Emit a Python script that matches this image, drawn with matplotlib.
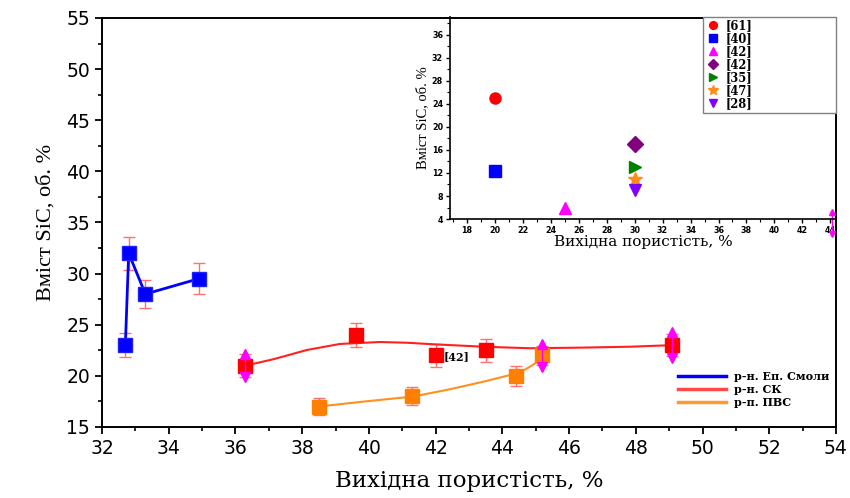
import matplotlib
matplotlib.use("Agg")
import matplotlib.pyplot as plt
from matplotlib.lines import Line2D

# --- main chart data ---
# р-н. Еп. Смоли (blue)
blue_x = [32.7, 32.8, 33.3, 34.9]
blue_y = [23, 32, 28, 29.5]
blue_err = [1.15, 1.6, 1.4, 1.5]

# р-н. СК (red)
red_x = [36.3, 39.6, 42.0, 43.5, 49.1]
red_y = [21, 24, 22, 22.5, 23]
red_err = [1.1, 1.17, 1.1, 1.1, 1.1]
# smoothed trend line
red_trend_x = [36.3, 37.13, 38.14, 39.13, 40.33, 41.13, 41.93, 43.43, 44.83, 46.33, 47.83, 48.82, 49.1]
red_trend_y = [21.0, 21.62, 22.53, 23.12, 23.31, 23.24, 23.09, 22.85, 22.7, 22.76, 22.85, 22.97, 23.0]

# р-н. ПВС (orange)
orange_x = [38.5, 41.3, 44.4, 45.2]
orange_y = [17, 18, 20, 22]
orange_err = [0.85, 0.87, 0.95, 0.9]
orange_trend_x = [38.5, 39.83, 41.31, 42.43, 43.43, 44.23, 44.7, 45.0, 45.2]
orange_trend_y = [17.0, 17.48, 17.97, 18.69, 19.43, 20.08, 20.65, 21.25, 22.0]

# magenta double arrows
arrow_x = [36.3, 45.2, 49.1]
arrow_y = [21, 22, 23]
arrow_d = [1.1, 1.15, 1.25]

legend_labels = ['р-н. Еп. Смоли', 'р-н. СК', 'р-п. ПВС']

# --- inset data ---
inset_labels = ['[61]', '[40]', '[42]', '[42]', '[35]', '[47]', '[28]']
inset_x = [20, 20, 25, 30, 30, 30, 30]
inset_y = [25, 12.4, 6, 17, 13, 11, 9]
inset_markers = ['o', 's', '^', 'D', '>', '*', 'v']
inset_colors = ['#ff0000', '#0000ff', '#ff00ff', '#800080', '#008000', '#ff8c1a', '#8000ff']
inset_arrow_x = [44.1]
inset_arrow_y = [3.3]
inset_arrow_d = [1.9]

fig = plt.figure(figsize=(8.5, 4.98), dpi=100)
ax = fig.add_axes([0.12, 0.1426, 0.8635, 0.8213])

# blue series
ax.errorbar(blue_x, blue_y, yerr=blue_err, fmt='none', ecolor='#ff7070', elinewidth=1, capsize=4, zorder=2)
ax.plot(blue_x, blue_y, '-', color='#0000ff', lw=2, marker='s', ms=9.5, mec='#2020ff', zorder=3)

# red series
ax.errorbar(red_x, red_y, yerr=red_err, fmt='none', ecolor='#ff7070', elinewidth=1, capsize=4, zorder=2)
ax.plot(red_trend_x, red_trend_y, '-', color='#ff2020', lw=1.5, zorder=3)
ax.plot(red_x, red_y, 's', color='#ff0000', ms=9.5, zorder=4)

# orange series
ax.errorbar(orange_x, orange_y, yerr=orange_err, fmt='none', ecolor='#ff7070', elinewidth=1, capsize=4, zorder=2)
ax.plot(orange_trend_x, orange_trend_y, '-', color='#ff9020', lw=1.5, zorder=3)
ax.plot(orange_x, orange_y, 's', color='#ff8000', ms=9.5, zorder=4)

# magenta arrows
for x, y, d in zip(arrow_x, arrow_y, arrow_d):
    ax.plot([x, x], [y - d, y + d], color='#ff00ff', lw=1, zorder=5)
    ax.plot(x, y + d, '^', color='#ff00ff', ms=6.5, zorder=5)
    ax.plot(x, y - d, 'v', color='#ff00ff', ms=6.5, zorder=5)

ax.text(42.25, 21.9, '[42]', fontsize=8, fontweight='bold', family='DejaVu Serif', va='center', ha='left')

ax.set_xlim(32, 54)
ax.set_ylim(15, 55)
ax.set_xticks(range(32, 55, 2))
ax.set_yticks(range(15, 56, 5))
ax.set_xticks(range(33, 54, 2), minor=True)
ax.set_yticks([17.5, 22.5, 27.5, 32.5, 37.5, 42.5, 47.5, 52.5], minor=True)
ax.tick_params(which='major', direction='out', length=5, width=1.3, labelsize=13.5)
ax.tick_params(which='minor', direction='out', length=3, width=1.2)
for s in ax.spines.values():
    s.set_linewidth(1.4)
ax.spines['right'].set_bounds(15, 46)

ax.set_xlabel('Вихідна пористість, %', family='DejaVu Serif', fontsize=16.5, labelpad=9)
ax.set_ylabel('Вміст SiC, об. %', family='Liberation Serif', fontsize=16, labelpad=8)

handles = [Line2D([], [], color='#0000ff', lw=2.5),
           Line2D([], [], color='#ff4a4a', lw=2.5),
           Line2D([], [], color='#ff9933', lw=2.5)]
ax.legend(handles, legend_labels, loc='lower right', bbox_to_anchor=(1.0, 0.03), frameon=False,
          prop={'family': 'DejaVu Serif', 'weight': 'bold', 'size': 8},
          handlelength=4.3, handletextpad=0.7, labelspacing=0.2, borderaxespad=0.2)

# --- inset ---
ins = fig.add_axes([0.5294, 0.5602, 0.4541, 0.4056])
ins.patch.set_alpha(0)
for lab, x, y, m, c in zip(inset_labels, inset_x, inset_y, inset_markers, inset_colors):
    ms = 10 if m == '*' else 8
    ins.plot(x, y, m, color=c, ms=ms, label=lab)

for x, y, d in zip(inset_arrow_x, inset_arrow_y, inset_arrow_d):
    ins.plot([x, x], [y - d, y + d], color='#ff00ff', lw=1, clip_on=False)
    ins.plot(x, y + d, '^', color='#ff00ff', ms=5, clip_on=False)
    ins.plot(x, y - d, 'v', color='#ff00ff', ms=5, clip_on=False)

ins.set_xlim(16.8, 44.4)
ins.set_ylim(4, 39.1)
ins.set_xticks(range(18, 45, 2))
ins.set_xticks(range(17, 45, 2), minor=True)
ins.set_yticks(range(4, 37, 4))
ins.set_yticks(range(6, 39, 4), minor=True)
ins.spines['top'].set_visible(False)
ins.spines['right'].set_visible(False)
ins.spines['left'].set_linewidth(1.2)
ins.spines['bottom'].set_linewidth(1.2)
ins.tick_params(which='major', direction='out', length=3, width=1)
ins.tick_params(which='minor', direction='out', length=2, width=0.8)
for t in ins.get_xticklabels() + ins.get_yticklabels():
    t.set_fontsize(5.8)
    t.set_fontweight('bold')
ins.tick_params(pad=2)
ins.set_xlabel('Вихідна пористість, %', family='DejaVu Serif', fontsize=11, labelpad=0)
ins.set_ylabel('Вміст SiC, об. %', family='Liberation Serif', fontsize=10.5, labelpad=2)

leg = ins.legend(loc='upper left', bbox_to_anchor=(0.655, 0.0, 0.345, 1.0), mode='expand',
                 prop={'family': 'DejaVu Serif', 'weight': 'bold', 'size': 8.3},
                 fancybox=False, edgecolor='#808080', framealpha=1, borderaxespad=0,
                 markerscale=0.7, labelspacing=0.0, borderpad=0.2, handletextpad=0.5,
                 handlelength=1.3)
leg.get_frame().set_linewidth(1)

fig.savefig('out.png', dpi=100)
